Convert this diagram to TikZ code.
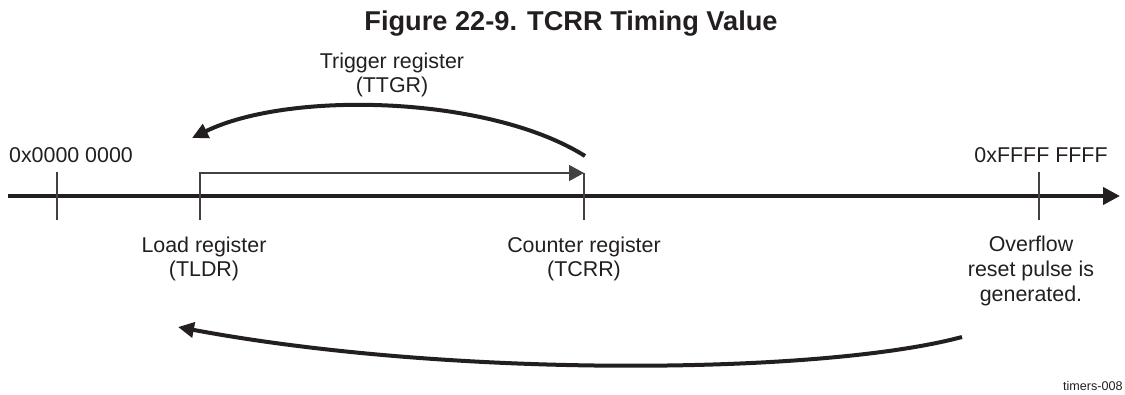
\documentclass[tikz,border=0pt]{standalone}
\usepackage{fontspec}
\setmainfont{Liberation Sans}
\usetikzlibrary{arrows.meta}
\definecolor{ink}{HTML}{231F20}
\tikzset{
  lbl/.style={align=center, text=ink, font=\fontsize{10.7}{12.3}\selectfont, inner sep=0pt},
  thick line/.style={draw=ink, line width=2pt},
  thin line/.style={draw=ink!85, line width=0.65pt},
  bigtip/.style={-{Triangle[length=8pt,width=7.5pt]}},
}
\begin{document}
\begin{tikzpicture}[x=0.5pt,y=-0.5pt]
\useasboundingbox (0,0) rectangle (1125,395);
% title
\node[text=ink, font=\fontsize{13.6}{14}\selectfont\bfseries, inner sep=0pt] (title) at (571,24) {Figure 22-9. TCRR Timing Value};
% axis
\coordinate (axs) at (8,196);
\coordinate (axe) at (1120,196);
\draw[thick line, -{Triangle[length=8.5pt,width=8.5pt]}] (axs) -- (axe);
% ticks
\coordinate (t0a) at (57,172);   \coordinate (t0b) at (57,220);
\coordinate (tla) at (200,173);  \coordinate (tlb) at (200,220);
\coordinate (tca) at (584,173);  \coordinate (tcb) at (584,220);
\coordinate (tfa) at (1039,172); \coordinate (tfb) at (1039,220);
\draw[thin line] (t0a) -- (t0b);
\draw[thin line] (tca) -- (tcb);
\draw[thin line] (tfa) -- (tfb);
\draw[thin line, -{Triangle[length=7.5pt,width=8pt]}] (tlb) |- (tca);
% labels
\node[lbl] (zero) at (71,155) {0x0000 0000};
\node[lbl] (full) at (1041,155) {0xFFFF FFFF};
\node[lbl] (ttgr) at (392,75) {Trigger register\\(TTGR)};
\node[lbl] (tldr) at (204,259) {Load register\\(TLDR)};
\node[lbl] (tcrr) at (584,259) {Counter register\\(TCRR)};
\node[lbl] (ovf) at (1031,271) {Overflow\\reset pulse is\\generated.};
\node[text=ink, font=\fontsize{6.3}{7}\selectfont, inner sep=0pt, anchor=east] (tag) at (1123,386) {timers-008};
% curved arrows
\coordinate (ua) at (585,156);
\coordinate (ub) at (192,138);
\draw[thick line, bigtip] (ua) .. controls (490,96) and (290,90) .. (ub);
\coordinate (la) at (962,337);
\coordinate (lb) at (178,327);
\draw[thick line, bigtip] (la) .. controls (820,375) and (450,378) .. (lb);
\end{tikzpicture}
\end{document}
